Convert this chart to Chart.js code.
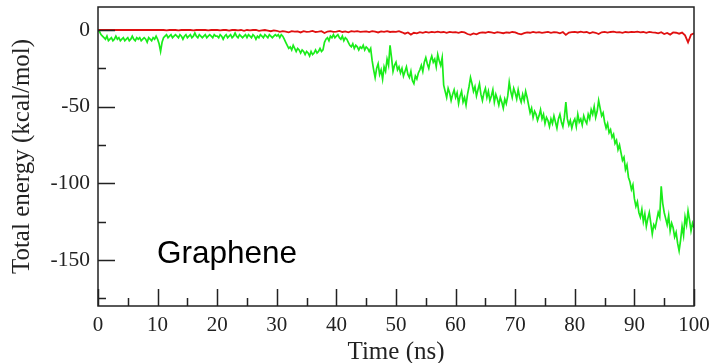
<!DOCTYPE html>
<html>
<head>
<meta charset="utf-8">
<title>Total energy vs time</title>
<script src="https://cdn.jsdelivr.net/npm/chart.js@4.4.1/dist/chart.umd.min.js"></script>
<style>
    html, body { margin: 0; padding: 0; background: #fff; }
    #wrap { width: 716px; height: 363px; }
</style>
</head>
<body>
<div id="wrap"><canvas id="energyChart" width="716" height="363"></canvas></div>
<script>
// Sampling steps of the two traces (ns)
const greenStep = 0.25;
const redStep = 0.5;

// Energy of the graphene system, 0 ... 100 ns, one row per 5 ns
const greenEnergy = [
    0, -1, -3, -4, -5, -6, -4, -7, -6, -5, -7, -6, -4, -6, -5, -7, -6, -5, -7, -6,
    -5, -7, -6, -4, -6, -7, -5, -6, -5, -7, -6, -5, -6, -8, -5, -6, -7, -5, -6, -4,
    -6, -9, -14, -8, -5, -4, -3, -5, -4, -3, -5, -4, -3, -4, -5, -3, -4, -6, -4, -3,
    -5, -4, -3, -5, -4, -2, -4, -5, -3, -4, -5, -4, -3, -5, -4, -3, -4, -5, -3, -4,
    -4, -5, -3, -4, -6, -4, -3, -5, -4, -3, -5, -4, -2, -4, -5, -3, -4, -5, -4, -3,
    -5, -3, -4, -5, -3, -4, -6, -4, -5, -3, -4, -5, -3, -4, -5, -3, -4, -5, -4, -3,
    -4, -3, -5, -3, -4, -6, -8, -10, -12, -11, -13, -10, -12, -14, -12, -13, -15, -13, -14, -16,
    -14, -15, -17, -14, -16, -15, -13, -15, -14, -12, -14, -13, -8, -6, -5, -7, -4, -5, -3, -5,
    -4, -3, -5, -6, -4, -7, -5, -6, -8, -10, -11, -9, -12, -10, -11, -13, -11, -12, -10, -13,
    -11, -12, -14, -12, -20, -26, -31, -25, -22, -29, -26, -32, -24, -27, -19, -23, -10, -18, -27, -23,
    -21, -26, -24, -28, -25, -30, -27, -24, -29, -31, -27, -33, -35, -30, -32, -28, -26, -23, -27, -21,
    -18, -22, -25, -20, -17, -21, -19, -24, -16, -20, -23, -18, -36, -40, -44, -38, -41, -46, -42, -39,
    -44, -41, -48, -43, -40, -47, -44, -49, -42, -37, -31, -35, -40, -37, -43, -39, -35, -42, -46, -41,
    -38, -44, -40, -46, -43, -39, -47, -42, -45, -49, -44, -47, -51, -45, -48, -43, -34, -40, -44, -38,
    -41, -45, -39, -44, -47, -42, -46, -40, -44, -49, -54, -51, -57, -53, -55, -59, -56, -52, -58, -55,
    -61, -57, -59, -63, -58, -61, -56, -60, -64, -58, -55, -60, -63, -57, -47, -58, -62, -59, -64, -60,
    -58, -63, -55, -60, -58, -62, -56, -59, -61, -55, -58, -52, -55, -50, -57, -53, -46, -51, -56, -54,
    -60, -64, -61, -67, -65, -70, -68, -74, -72, -78, -75, -80, -85, -83, -91, -88, -96, -99, -104, -101,
    -110, -115, -112, -119, -122, -117, -125, -120, -128, -123, -119, -126, -133, -127, -129, -124, -119, -122, -102, -113,
    -119, -123, -127, -121, -131, -126, -129, -135, -132, -139, -144, -137, -128, -134, -122, -127, -118, -124, -131, -126,
    -129
];

// Reference trace staying close to zero, one row per 10 ns
const redEnergy = [
    0, 0, 0, 0, 0, 0, 0, 0, 0, 0, 0, 0, 0, 0, 0, 0, 0, 0, 0, 0,
    0, 0, 0, -0.3, 0, 0, 0, -0.2, 0, 0, 0, 0, -0.3, 0, 0, 0, 0, -0.2, 0, 0,
    0, -0.3, 0, 0, -0.4, 0, 0, -0.3, 0, -0.5, 0, -0.3, 0, 0, -0.6, -0.2, 0, -0.4, -0.8, -0.3,
    -0.5, -1.2, -0.8, -1, -1.5, -0.7, -1.1, -0.9, -1.6, -0.8, -1.2, -1, -0.6, -1.3, -1.1, -0.8, -2, -1, -0.7, -1.2,
    -1, -0.6, -1.3, -0.9, -1.5, -0.8, -1.1, -0.7, -1.2, -1, -0.9, -1.4, -0.8, -1.1, -1.6, -0.9, -1.2, -0.8, -1.3, -1,
    -1.2, -0.8, -1.5, -2.4, -1.6, -3, -1.8, -2.2, -1.4, -1.9, -1.3, -1.7, -1.2, -1.5, -1.1, -1.6, -1.3, -1.8, -1.2, -1.5,
    -1.4, -1.8, -1.2, -1.6, -2.6, -3.2, -2.2, -2.8, -1.9, -1.5, -1.8, -1.3, -1.6, -2, -1.4, -1.7, -2.1, -1.5, -1.8, -1.3,
    -1.6, -2.4, -2.8, -2, -1.5, -1.8, -1.3, -1.7, -1.4, -1.9, -1.5, -1.2, -1.8, -1.4, -1.6, -2.2, -1.3, -3.2, -1.7, -1.4,
    -1.2, -1.6, -1.1, -1.5, -1.3, -2.2, -1.4, -1.8, -2.6, -1.5, -1.2, -1.7, -1.3, -1.1, -1.6, -1.4, -1.9, -1.3, -1.5, -1.2,
    -1.4, -1.1, -1.6, -1.3, -1.8, -1.2, -1.5, -1.7, -2.2, -1.4, -2.6, -1.9, -3, -1.6, -1.8, -2.4, -1.7, -3.5, -8, -3, -2.2
];

// Axis ticks
const xMajorTicks = [0, 10, 20, 30, 40, 50, 60, 70, 80, 90, 100];
const xMinorTicks = [5, 15, 25, 35, 45, 55, 65, 75, 85, 95];
const yMajorTicks = [0, -50, -100, -150];
const yMinorTicks = [-25, -75, -125, -175];

const panelLabel = 'Graphene';
const panelLabelAt = { x: 9.9, y: -152 };

const toPoints = (values, step) => values.map((v, i) => ({ x: i * step, y: v }));

const serif = "'Liberation Serif', 'Times New Roman', serif";
const ink = '#222';

// Closed frame, inward tick marks and the panel label
const framePlugin = {
    id: 'frame',
    afterDatasetsDraw(chart) {
        const { ctx, chartArea: a, scales: { x, y } } = chart;
        ctx.save();
        ctx.strokeStyle = ink;
        ctx.lineWidth = 1.5;
        ctx.strokeRect(a.left, a.top, a.right - a.left, a.bottom - a.top);

        ctx.beginPath();
        const xTick = (v, len) => {
            const px = Math.round(x.getPixelForValue(v)) + 0.5;
            ctx.moveTo(px, a.bottom);
            ctx.lineTo(px, a.bottom - len);
        };
        const yTick = (v, len) => {
            const py = Math.round(y.getPixelForValue(v)) + 0.5;
            ctx.moveTo(a.left, py);
            ctx.lineTo(a.left + len, py);
        };
        xMajorTicks.forEach(v => xTick(v, 17));
        xMinorTicks.forEach(v => xTick(v, 8));
        yMajorTicks.forEach(v => yTick(v, 17));
        yMinorTicks.forEach(v => yTick(v, 8));
        ctx.stroke();

        ctx.fillStyle = '#000';
        ctx.font = "31.5px 'Liberation Sans', Arial, sans-serif";
        ctx.textAlign = 'left';
        ctx.textBaseline = 'alphabetic';
        ctx.fillText(panelLabel, x.getPixelForValue(panelLabelAt.x), y.getPixelForValue(panelLabelAt.y));
        ctx.restore();
    }
};

// keep the plot box fixed: no extra room for the end labels
const noEdgePadding = scale => {
    scale.paddingTop = 0;
    scale.paddingBottom = 0;
    scale.paddingLeft = 0;
    scale.paddingRight = 0;
};

new Chart(document.getElementById('energyChart'), {
    type: 'line',
    data: {
        datasets: [
            {
                label: 'Graphene',
                data: toPoints(greenEnergy, greenStep),
                borderColor: '#1aec1a',
                borderWidth: 1.7,
                pointRadius: 0,
                tension: 0
            },
            {
                label: 'Reference',
                data: toPoints(redEnergy, redStep),
                borderColor: '#e01010',
                borderWidth: 1.8,
                pointRadius: 0,
                tension: 0
            }
        ]
    },
    options: {
        responsive: false,
        animation: false,
        layout: { padding: { left: 0, right: 22, top: 7, bottom: 0 } },
        plugins: {
            legend: { display: false },
            tooltip: { enabled: false }
        },
        scales: {
            x: {
                type: 'linear',
                min: 0,
                max: 100,
                grid: { display: false, drawTicks: false },
                border: { display: false },
                afterBuildTicks: scale => { scale.ticks = xMajorTicks.map(v => ({ value: v })); },
                afterFit: scale => { scale.height = 57; noEdgePadding(scale); },
                ticks: {
                    color: ink,
                    padding: 7,
                    maxRotation: 0,
                    font: { family: serif, size: 21 }
                },
                title: {
                    display: true,
                    text: 'Time (ns)',
                    color: ink,
                    padding: { top: 0, bottom: -2 },
                    font: { family: serif, size: 25, lineHeight: 1 }
                }
            },
            y: {
                type: 'linear',
                min: -180,
                max: 15,
                grid: { display: false, drawTicks: false },
                border: { display: false },
                afterBuildTicks: scale => { scale.ticks = yMajorTicks.map(v => ({ value: v })); },
                afterFit: scale => { scale.width = 98; noEdgePadding(scale); },
                ticks: {
                    color: ink,
                    padding: 8,
                    font: { family: serif, size: 21.5 }
                },
                title: {
                    display: true,
                    text: 'Total energy (kcal/mol)',
                    color: ink,
                    padding: { top: 10, bottom: 0 },
                    font: { family: serif, size: 25, lineHeight: 1 }
                }
            }
        }
    },
    plugins: [framePlugin]
});
</script>
</body>
</html>
